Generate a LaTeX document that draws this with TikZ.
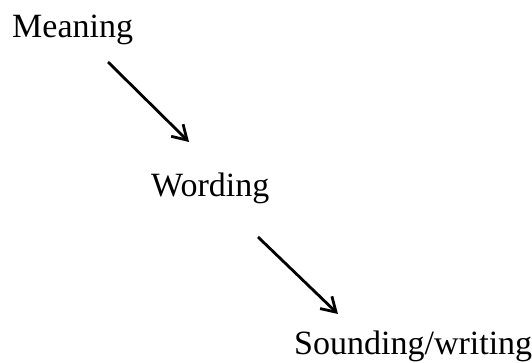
\documentclass[tikz,border=0pt]{standalone}
\usepackage{fontspec}
\setmainfont{Liberation Serif}
\usetikzlibrary{arrows.meta}
\begin{document}
\begin{tikzpicture}[x=1pt,y=-1pt,
  lbl/.style={anchor=base west,inner sep=0pt,font=\fontsize{34}{36}\selectfont},
  flow/.style={line width=2.8pt,-{Straight Barb[length=14pt,width=17pt,line width=2.8pt]}}]%
\useasboundingbox (0,0) rectangle (532,363);
\node[lbl] (meaning) at (12,38) {Meaning};
\node[lbl] (wording) at (151,197) {Wording};
\node[lbl] (sounding) at (294,354) {Sounding/writing};
\coordinate (m1) at (108,62);
\coordinate (w0) at (189,142);
\coordinate (w1) at (258,237);
\coordinate (s0) at (338,314);
\draw[flow] (m1) -- (w0);
\draw[flow] (w1) -- (s0);
\end{tikzpicture}
\end{document}
